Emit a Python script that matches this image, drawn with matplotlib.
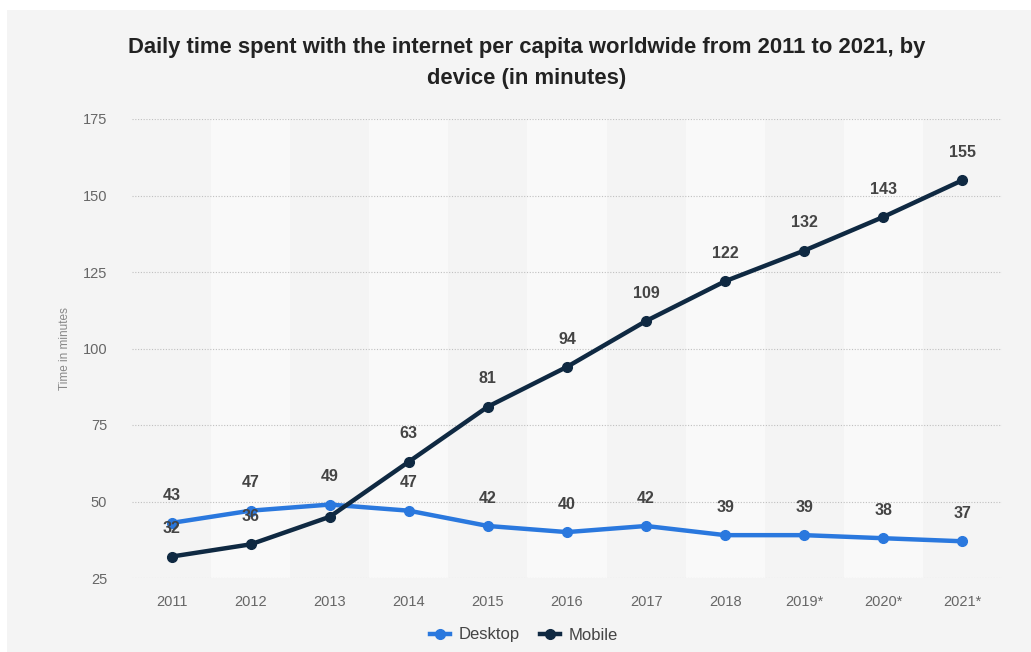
import numpy as np
import matplotlib.pyplot as plt
from matplotlib.patches import Rectangle
from matplotlib.lines import Line2D

plt.rcParams['font.family'] = ['Liberation Sans', 'DejaVu Sans']

# ====================== DATA ======================
years = ['2011', '2012', '2013', '2014', '2015', '2016', '2017', '2018', '2019*', '2020*', '2021*']
desktop = [43, 47, 49, 47, 42, 40, 42, 39, 39, 38, 37]
mobile = [32, 36, 45, 63, 81, 94, 109, 122, 132, 143, 155]
mobile_labels = ['32', '36', '', '63', '81', '94', '109', '122', '132', '143', '155']
yticks = [25, 50, 75, 100, 125, 150, 175]

DESKTOP_COL = '#2a78de'
MOBILE_COL = '#0f2942'
BG = '#f4f4f4'

fig = plt.figure(figsize=(10.31, 6.52), dpi=100)
fig.patch.set_facecolor('white')
fig.patches.append(Rectangle((7 / 1031, 0), 1, 1 - 10 / 652, transform=fig.transFigure,
                             facecolor=BG, edgecolor='none', zorder=-10))

ax = fig.add_axes([132 / 1031, 1 - 578 / 652, 870 / 1031, (578 - 119) / 652])
ax.set_facecolor('none')
x = np.arange(len(years))

# alternating column shading
for i in x:
    ax.axvspan(i - 0.5, i + 0.5, color=BG if i % 2 == 0 else '#f9f9f9', lw=0, zorder=0)

ax.set_xlim(-0.5, len(years) - 0.5)
ax.set_ylim(25, 175)
ax.set_yticks(yticks)
for yv in yticks:
    ax.axhline(yv, color='#c0c0c0', lw=0.8, ls=(0, (1, 1.5)), zorder=1)

ax.plot(x, desktop, '-o', color=DESKTOP_COL, lw=3.2, ms=7, zorder=3, label='Desktop')
ax.plot(x, mobile, '-o', color=MOBILE_COL, lw=3.2, ms=7, zorder=4, label='Mobile')

for i in x:
    ax.annotate(str(desktop[i]), (i, desktop[i]), xytext=(0, 20), textcoords='offset points',
                ha='center', va='center', fontsize=11.5, fontweight='bold', color='#444444', zorder=5)
    if mobile_labels[i]:
        ax.annotate(mobile_labels[i], (i, mobile[i]), xytext=(0, 20), textcoords='offset points',
                    ha='center', va='center', fontsize=11.5, fontweight='bold', color='#444444', zorder=5)

ax.set_xticks(x)
ax.set_xticklabels(years)
ax.tick_params(axis='both', length=0, labelsize=10.5, colors='#666666')
ax.tick_params(axis='x', pad=12)
ax.tick_params(axis='y', pad=18)
for s in ax.spines.values():
    s.set_visible(False)

ax.set_ylabel('Time in minutes', fontsize=8.5, color='#888888', labelpad=8)

fig.text(527 / 1031, 1 - 63 / 652,
         'Daily time spent with the internet per capita worldwide from 2011 to 2021, by\ndevice (in minutes)',
         ha='center', va='center', fontsize=15.8, fontweight='bold', color='#222222', linespacing=1.6)

handles = [Line2D([], [], color=DESKTOP_COL, lw=3.2, marker='o', ms=7),
           Line2D([], [], color=MOBILE_COL, lw=3.2, marker='o', ms=7)]
fig.legend(handles, ['Desktop', 'Mobile'], loc='center', bbox_to_anchor=(524 / 1031, 1 - 635 / 652),
           ncol=2, frameon=False, fontsize=12, handlelength=1.2, columnspacing=1.2,
           handletextpad=0.5, labelcolor='#444444')

fig.savefig('out.png', dpi=100)
